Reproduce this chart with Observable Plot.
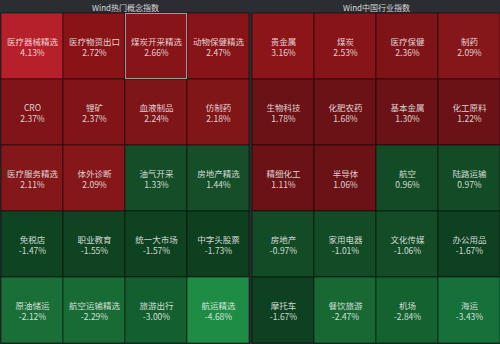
<!DOCTYPE html>
<html><head><meta charset="utf-8">
<script src="https://cdn.jsdelivr.net/npm/d3@7"></script>
<script src="https://cdn.jsdelivr.net/npm/@observablehq/plot@0.6"></script>
<style>html,body{margin:0;padding:0;background:#1c1d21;}</style>
</head><body><div id="chart"></div>
<script>
const panels = ["Wind热门概念指数", "Wind中国行业指数"];

// Left panel: Wind hot concept indices (row-major, 4 per row)
const conceptNames = ["医疗器械精选","医疗物资出口","煤炭开采精选","动物保健精选",
  "CRO","锂矿","血液制品","仿制药",
  "医疗服务精选","体外诊断","油气开采","房地产精选",
  "免税店","职业教育","统一大市场","中字头股票",
  "原油储运","航空运输精选","旅游出行","航运精选"];
// change (%) – the green cells shown as "1.33%"/"1.44%" are falls (sorted order & colour)
const conceptValues = [4.13,2.72,2.66,2.47, 2.37,2.37,2.24,2.18, 2.11,2.09,-1.33,-1.44,
  -1.47,-1.55,-1.57,-1.73, -2.12,-2.29,-3.00,-4.68];
// labels as printed in the reference
const conceptLabels = ["4.13%","2.72%","2.66%","2.47%","2.37%","2.37%","2.24%","2.18%",
  "2.11%","2.09%","1.33%","1.44%","-1.47%","-1.55%","-1.57%","-1.73%",
  "-2.12%","-2.29%","-3.00%","-4.68%"];

// Right panel: Wind China industry indices
const industryNames = ["贵金属","煤炭","医疗保健","制药",
  "生物科技","化肥农药","基本金属","化工原料",
  "精细化工","半导体","航空","陆路运输",
  "房地产","家用电器","文化传媒","办公用品",
  "摩托车","餐饮旅游","机场","海运"];
const industryValues = [3.16,2.53,2.36,2.09, 1.78,1.68,1.30,1.22, 1.11,1.06,-0.96,-0.97,
  -0.97,-1.01,-1.06,-1.67, -1.67,-2.47,-2.84,-3.43];
const industryLabels = ["3.16%","2.53%","2.36%","2.09%","1.78%","1.68%","1.30%","1.22%",
  "1.11%","1.06%","0.96%","0.97%","-0.97%","-1.01%","-1.06%","-1.67%",
  "-1.67%","-2.47%","-2.84%","-3.43%"];

const selected = "煤炭开采精选";

const data = [];
function add(panel, names, values, labels) {
  names.forEach((n, i) => data.push({panel, name: n, value: values[i], label: labels[i], col: i % 4, row: Math.floor(i / 4)}));
}
add(panels[0], conceptNames, conceptValues, conceptLabels);
add(panels[1], industryNames, industryValues, industryLabels);

const colorDomain = [-4.68, -3.43, -3.0, -2.12, -1.8, -1.47, -1.44, -0.96, 1.06, 1.8, 2.09, 2.3, 2.45, 3.16, 4.13];
const colorRange = ["#1e8c45", "#16703a", "#145f30", "#1a6e37", "#0e3f20", "#0f4422", "#154e28", "#134b26",
  "#6a1215", "#6b1216", "#85171a", "#7b1418", "#861418", "#8b1519", "#b5202a"];

const chart = Plot.plot({
  width: 500, height: 344,
  marginTop: 12, marginLeft: 0, marginRight: 0, marginBottom: 0,
  style: {background: "#2b2d32", fontFamily: "'Noto Sans CJK SC', 'Noto Sans', sans-serif"},
  fx: {domain: panels, paddingInner: 0.012, paddingOuter: 0, label: null},
  x: {domain: [0, 1, 2, 3], axis: null, padding: 0},
  y: {domain: [0, 1, 2, 3, 4], axis: null, padding: 0},
  color: {type: "linear", domain: colorDomain, range: colorRange, interpolate: "rgb"},
  marks: [
    Plot.axisFx({anchor: "top", tickSize: 0, tickPadding: 2, fontSize: 8, fill: "#d8d8d8", label: null}),
    Plot.cell(data, {fx: "panel", x: "col", y: "row", fill: "value", stroke: "#000", strokeOpacity: 0.5, strokeWidth: 1}),
    Plot.cell(data.filter(d => d.name === selected), {fx: "panel", x: "col", y: "row", fill: "none", stroke: "#9a9a9a", strokeWidth: 1, inset: 0.5}),
    Plot.text(data, {fx: "panel", x: "col", y: "row", text: "name", dy: -4, fill: "#ffffff", fillOpacity: 0.8, fontSize: 8.5}),
    Plot.text(data, {fx: "panel", x: "col", y: "row", text: "label", dy: 7, fill: "#ffffff", fillOpacity: 0.8, fontSize: 8.5})
  ]
});
document.getElementById("chart").append(chart);
</script>
</body></html>
